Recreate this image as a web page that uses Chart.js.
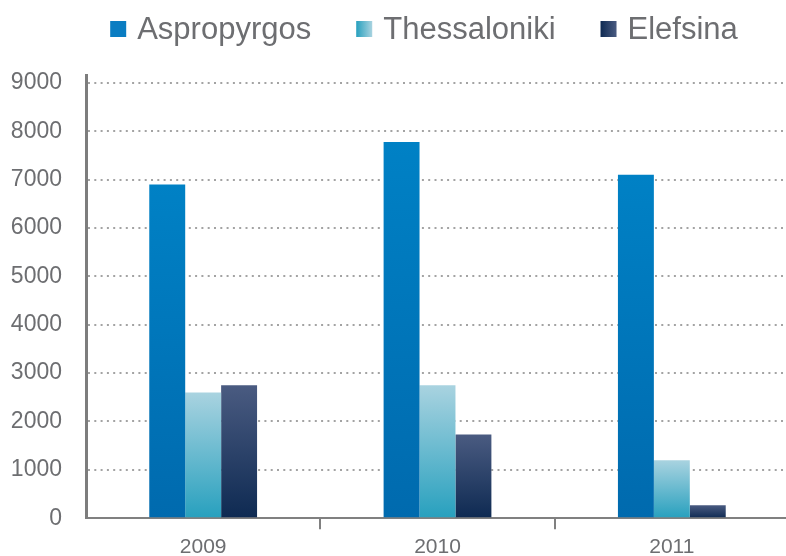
<!DOCTYPE html>
<html>
<head>
<meta charset="utf-8">
<script src="https://cdn.jsdelivr.net/npm/chart.js@4.4.1/dist/chart.umd.min.js"></script>
<style>
  html, body { margin: 0; padding: 0; background: #fff; overflow: hidden; }
  #wrap { width: 786px; height: 556px; overflow: hidden; }
</style>
</head>
<body>
<div id="wrap"><canvas id="chart" width="789" height="556"></canvas></div>
<script>
// values
const years = ["2009", "2010", "2011"];
const aspropyrgos = [6900, 7780, 7100];
const thessaloniki = [2600, 2750, 1200];
const elefsina = [2750, 1730, 270];
const yTicks = [0, 1000, 2000, 3000, 4000, 5000, 6000, 7000, 8000, 9000];

const font = '"Liberation Sans", Arial, Helvetica, sans-serif';
const textColor = "#6d6e71";

// top / bottom colours for each series
const shades = {
  Aspropyrgos: ["#0081c5", "#006aae"],
  Thessaloniki: ["#a9d3e0", "#27a0be"],
  Elefsina: ["#4a5b81", "#0e2a52"]
};

// vertical gradient per bar, using the y scale
function barFill(name) {
  return function (c) {
    const chart = c.chart;
    const y = chart.scales.y;
    if (!y || !c.parsed) return shades[name][1];
    const top = y.getPixelForValue(c.parsed.y);
    const base = y.getPixelForValue(0);
    if (!isFinite(top) || !isFinite(base) || top === base) return shades[name][1];
    const g = chart.ctx.createLinearGradient(0, top, 0, base);
    g.addColorStop(0, shades[name][0]);
    g.addColorStop(1, shades[name][1]);
    return g;
  };
}

// legend on top with small gradient squares
const topLegend = {
  id: "topLegend",
  afterDraw(chart) {
    const ctx = chart.ctx;
    ctx.save();
    ctx.font = "31px " + font;
    ctx.textBaseline = "middle";
    const box = 16, gap = 11, spacing = 45;
    const items = chart.data.datasets.map(ds => ({
      label: ds.label,
      w: box + gap + ctx.measureText(ds.label).width
    }));
    const total = items.reduce((s, it) => s + it.w, 0) + spacing * (items.length - 1);
    let x = 424 - total / 2;
    const y = 29;
    items.forEach(it => {
      const c = shades[it.label];
      const g = ctx.createLinearGradient(x, 0, x + box, 0);
      if (it.label === "Aspropyrgos") {
        g.addColorStop(0, "#0a7dc2");
        g.addColorStop(1, "#0a7dc2");
      } else {
        g.addColorStop(0, c[1]);
        g.addColorStop(1, c[0]);
      }
      ctx.fillStyle = g;
      ctx.fillRect(x, y - box / 2, box, box);
      ctx.fillStyle = textColor;
      ctx.fillText(it.label, x + box + gap, y + 1);
      x += it.w + spacing;
    });
    ctx.restore();
  }
};

const ctx = document.getElementById("chart").getContext("2d");

new Chart(ctx, {
  type: "bar",
  data: {
    labels: years,
    datasets: [
      { label: "Aspropyrgos", data: aspropyrgos, backgroundColor: barFill("Aspropyrgos") },
      { label: "Thessaloniki", data: thessaloniki, backgroundColor: barFill("Thessaloniki") },
      { label: "Elefsina", data: elefsina, backgroundColor: barFill("Elefsina") }
    ]
  },
  options: {
    responsive: false,
    animation: false,
    devicePixelRatio: 1,
    layout: { padding: { top: 75, left: 0, right: 0, bottom: 0 } },
    datasets: {
      bar: { categoryPercentage: 0.46, barPercentage: 1, borderWidth: 0 }
    },
    plugins: {
      legend: { display: false },
      tooltip: { enabled: false }
    },
    scales: {
      x: {
        afterFit: (s) => { s.height = 37; },
        grid: {
          offset: true,
          drawOnChartArea: false,
          drawTicks: true,
          tickLength: 11,
          lineWidth: 2,
          color: (c) => (c.index === 1 || c.index === 2) ? "#808080" : "rgba(0,0,0,0)"
        },
        border: { display: true, color: "#808080", width: 2 },
        ticks: {
          padding: 5,
          color: textColor,
          font: { family: font, size: 21 }
        }
      },
      y: {
        min: 0,
        max: 9165,
        afterFit: (s) => { s.width = 86; },
        afterBuildTicks: (s) => {
          s.ticks = yTicks.map(v => ({ value: v }));
        },
        grid: {
          drawTicks: false,
          color: "#a3a3a3",
          lineWidth: 2
        },
        border: { display: true, color: "#7d7d7d", width: 3, dash: [2, 4.3] },
        ticks: {
          padding: 24,
          color: textColor,
          font: { family: font, size: 23 },
          callback: (v) => String(v)
        }
      }
    }
  },
  plugins: [topLegend]
});
</script>
</body>
</html>
